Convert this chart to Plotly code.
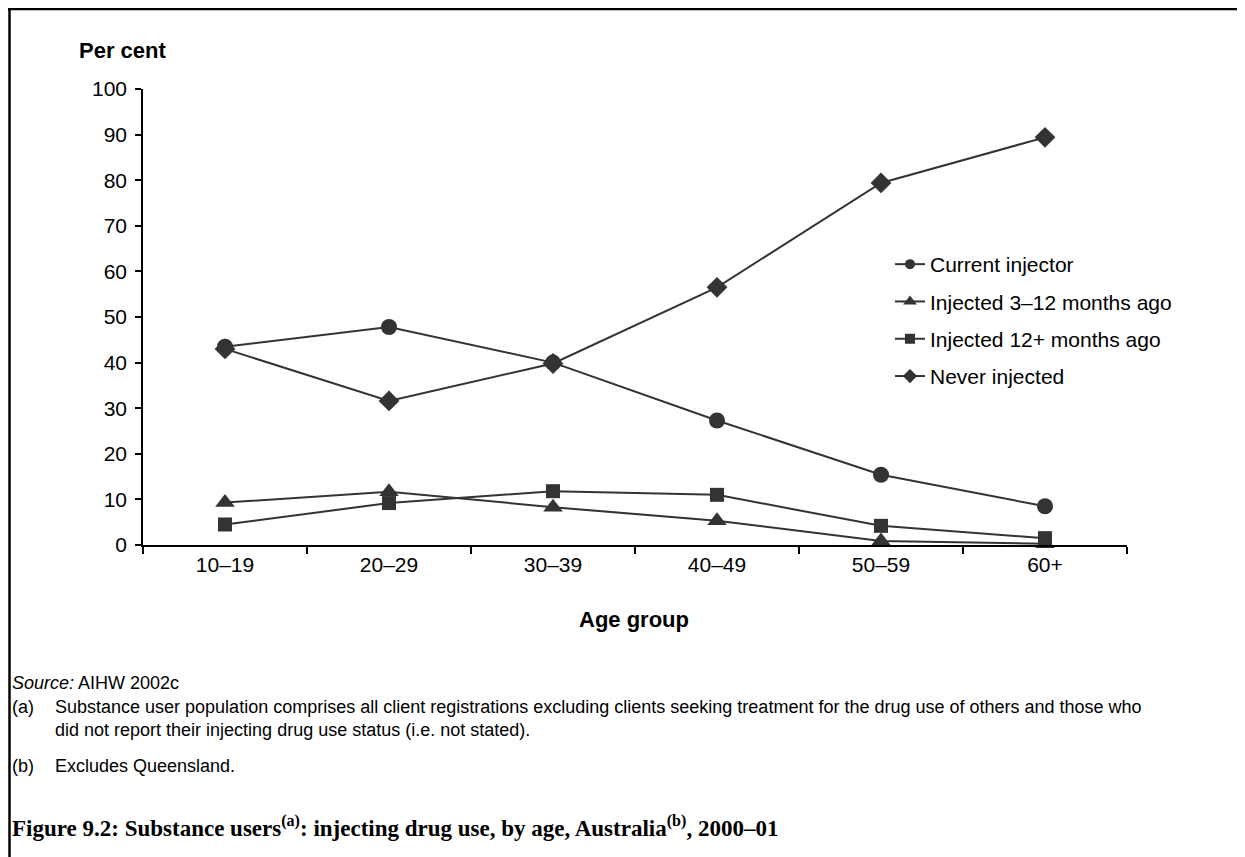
import plotly.graph_objects as go

categories = ["10–19", "20–29", "30–39", "40–49", "50–59", "60+"]
current_injector = [43.5, 47.8, 40.0, 27.3, 15.4, 8.5]
injected_3_12 = [9.3, 11.7, 8.3, 5.3, 0.9, 0.3]
injected_12_plus = [4.5, 9.2, 11.8, 11.0, 4.2, 1.5]
never_injected = [43.0, 31.6, 39.8, 56.5, 79.4, 89.4]
y_ticks = [0, 10, 20, 30, 40, 50, 60, 70, 80, 90, 100]

series = [
    ("Current injector", current_injector, "circle", 16, 10),
    ("Injected 3–12 months ago", injected_3_12, "triangle-up", 17, 12),
    ("Injected 12+ months ago", injected_12_plus, "square", 14, 10),
    ("Never injected", never_injected, "diamond", 16, 11),
]

COL = "#333333"
FONT = "Liberation Sans, Arial, sans-serif"

OFF = 8  # page body margin
W, H = 1245 - OFF, 857 - OFF
L, R, T, B = 143 - OFF, 1127 - OFF, 89 - OFF, 545 - OFF


def px(x):
    # x given in screen pixels
    return (x - OFF - L) / (R - L)


def py(y):
    return (B - (y - OFF)) / (B - T)


fig = go.Figure()
for name, vals, sym, size, lsize in series:
    fig.add_trace(go.Scatter(
        x=categories, y=vals, mode="lines+markers", name=name,
        line=dict(color=COL, width=2),
        marker=dict(symbol=sym, size=size, color=COL),
        showlegend=False, cliponaxis=False,
    ))
# legend entries (smaller markers, as in the reference legend)
for name, vals, sym, size, lsize in series:
    fig.add_trace(go.Scatter(
        x=[None], y=[None], mode="lines+markers", name=name,
        legendgroup=name,
        line=dict(color=COL, width=2),
        marker=dict(symbol=sym, size=lsize, color=COL),
        showlegend=True,
    ))

FN = 18
annotations = [
    dict(text="<b>Per cent</b>", x=px(77), y=py(50), xanchor="left", yanchor="middle",
         font=dict(size=22, family=FONT, color="#000")),
    dict(text="<b>Age group</b>", x=px(634), y=py(619), xanchor="center", yanchor="middle",
         font=dict(size=22, family=FONT, color="#000")),
    dict(text="<i>Source:</i> AIHW 2002c", x=px(10), y=py(683), xanchor="left", yanchor="middle",
         font=dict(size=FN, family=FONT, color="#000")),
    dict(text="(a)", x=px(10), y=py(707), xanchor="left", yanchor="middle",
         font=dict(size=FN, family=FONT, color="#000")),
    dict(text="Substance user population comprises all client registrations excluding clients seeking treatment for the drug use of others and those who",
         x=px(53), y=py(707), xanchor="left", yanchor="middle",
         font=dict(size=FN, family=FONT, color="#000")),
    dict(text="did not report their injecting drug use status (i.e. not stated).",
         x=px(53), y=py(730), xanchor="left", yanchor="middle",
         font=dict(size=FN, family=FONT, color="#000")),
    dict(text="(b)", x=px(10), y=py(766), xanchor="left", yanchor="middle",
         font=dict(size=FN, family=FONT, color="#000")),
    dict(text="Excludes Queensland.", x=px(53), y=py(766), xanchor="left", yanchor="middle",
         font=dict(size=FN, family=FONT, color="#000")),
    dict(text="<b>Figure 9.2: Substance users<sup>(a)</sup>: injecting drug use, by age, Australia<sup>(b)</sup>, 2000–01</b>",
         x=px(10), y=py(826), xanchor="left", yanchor="middle",
         font=dict(size=23, family="Liberation Serif, Times New Roman, serif", color="#000")),
]
for a in annotations:
    a.update(xref="paper", yref="paper", showarrow=False)

shapes = [
    dict(type="line", xref="paper", yref="paper", x0=px(8), x1=px(1245), y0=py(9), y1=py(9),
         line=dict(color="#000", width=2.5)),
    dict(type="line", xref="paper", yref="paper", x0=px(9.5), x1=px(9.5), y0=py(8), y1=py(857),
         line=dict(color="#000", width=2.5)),
]

fig.update_layout(
    width=W, height=H,
    margin=dict(l=L, r=W - R, t=T, b=H - B),
    paper_bgcolor="white", plot_bgcolor="white",
    font=dict(family=FONT, size=21, color="#000"),
    annotations=annotations, shapes=shapes,
    legend=dict(x=px(890), y=py(244), xanchor="left", yanchor="top",
                bgcolor="rgba(0,0,0,0)", font=dict(size=21, family=FONT),
                tracegroupgap=7, itemsizing="trace"),
    xaxis=dict(type="category", categoryorder="array", categoryarray=categories,
               tickson="boundaries", ticks="outside", ticklen=7, tickwidth=1.5,
               tickcolor="#000", showline=True, linecolor="#000", linewidth=1.5,
               showgrid=False, zeroline=False, tickfont=dict(size=21),
               range=[-0.5, 5.5]),
    yaxis=dict(range=[0, 100], tickvals=y_ticks, ticks="outside", ticklen=6,
               tickwidth=1.5, tickcolor="#000", showline=True, linecolor="#000",
               linewidth=1.5, showgrid=False, zeroline=False, tickfont=dict(size=21),
               ticklabelstandoff=4),
)

fig.write_html("out.html")
